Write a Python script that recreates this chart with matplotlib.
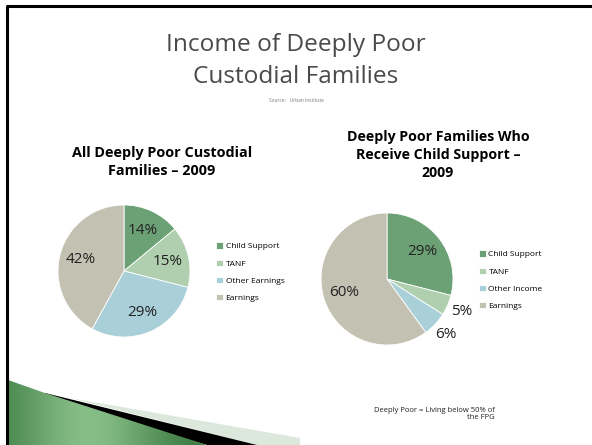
import numpy as np
import matplotlib.pyplot as plt
from matplotlib.patches import Polygon
from matplotlib.colors import LinearSegmentedColormap

W, H = 592, 445

title = "Income of Deeply Poor\nCustodial Families"
source = "Source:   Urban Institute"
note = "Deeply Poor = Living below 50% of\nthe FPG"

title_all = "All Deeply Poor Custodial\nFamilies \u2013 2009"
labels_all = ["Child Support", "TANF", "Other Earnings", "Earnings"]
values_all = [14, 15, 29, 42]

title_cs = "Deeply Poor Families Who\nReceive Child Support \u2013\n2009"
labels_cs = ["Child Support", "TANF", "Other Income", "Earnings"]
values_cs = [29, 5, 6, 60]

colors = ["#6ca176", "#b0cfaf", "#a9cfd8", "#c3c1b2"]

plt.rcParams['font.family'] = ['Open Sans', 'DejaVu Sans']

fig = plt.figure(figsize=(W / 100, H / 100), dpi=100)
bg = fig.add_axes([0, 0, 1, 1])
bg.axis('off')

# slide frame
bg.plot([6, W], [6, 6], color='black', lw=2.2, solid_capstyle='butt')
bg.plot([7, 7], [6, H], color='black', lw=2.2, solid_capstyle='butt')

# bottom-left swoosh
light = Polygon([(70, 398), (300, 438), (300, H), (257, H)], closed=True,
                facecolor='#dce8dc', edgecolor='none')
bg.add_patch(light)
black = Polygon([(45, 393), (257, H), (207, H), (45, 398)], closed=True,
                facecolor='black', edgecolor='none')
bg.add_patch(black)
green = Polygon([(8, 380), (45, 393), (207, H), (8, H)], closed=True,
                facecolor='none', edgecolor='none')
bg.add_patch(green)
gx = np.linspace(0, 1, 200)
grad = np.exp(-((gx - 0.4) / 0.35) ** 2)
cmap = LinearSegmentedColormap.from_list('g', ['#3e7d44', '#86bd86'])
img = bg.imshow(np.tile(grad, (10, 1)), cmap=cmap, extent=(8, 210, H, 378),
                aspect='auto', zorder=1)
img.set_clip_path(green)
bg.set_xlim(0, W)
bg.set_ylim(H, 0)

# titles and notes
bg.text(296, 61, title, ha='center', va='center', fontsize=17.6, color='#4a4a48',
        linespacing=1.4)
bg.text(296, 101, source, ha='center', va='center', fontsize=3.5, color='#777777')
bg.text(495, 414, note, ha='right', va='center', fontsize=5.5, color='#222222',
        linespacing=1.1)
bg.text(162, 162, title_all, ha='center', va='center', fontsize=10.4,
        fontweight='bold', color='black', linespacing=1.35)
bg.text(438, 155, title_cs, ha='center', va='center', fontsize=10.2,
        fontweight='bold', color='black', linespacing=1.35)


def draw_pie(cx, cy, r, values, labels, leg_x, leg_y):
    ax = fig.add_axes([(cx - r) / W, (H - cy - r) / H, 2 * r / W, 2 * r / H])
    wedges, texts, autotexts = ax.pie(values, colors=colors, startangle=90,
                                      counterclock=False, radius=1,
                                      autopct='%d%%', pctdistance=0.68,
                                      wedgeprops=dict(edgecolor='white', linewidth=0.6),
                                      textprops=dict(fontsize=11, color='#222222'))
    for w, t, v in zip(wedges, autotexts, values):
        if v < 10:
            ang = np.deg2rad((w.theta1 + w.theta2) / 2)
            t.set_position((1.23 * np.cos(ang), 1.23 * np.sin(ang)))
    ax.set_xlim(-1, 1)
    ax.set_ylim(-1, 1)
    ax.set_aspect('auto')
    fig.legend(wedges, labels, loc='upper left',
               bbox_to_anchor=(leg_x / W, 1 - leg_y / H), frameon=False,
               fontsize=6, handlelength=0.8, handleheight=0.8,
               handletextpad=0.3, labelspacing=1.1, borderaxespad=0)


draw_pie(124, 271, 66, values_all, labels_all, 213, 239)
draw_pie(387, 279, 66, values_cs, labels_cs, 476, 247)

fig.savefig('out.png', dpi=100)
